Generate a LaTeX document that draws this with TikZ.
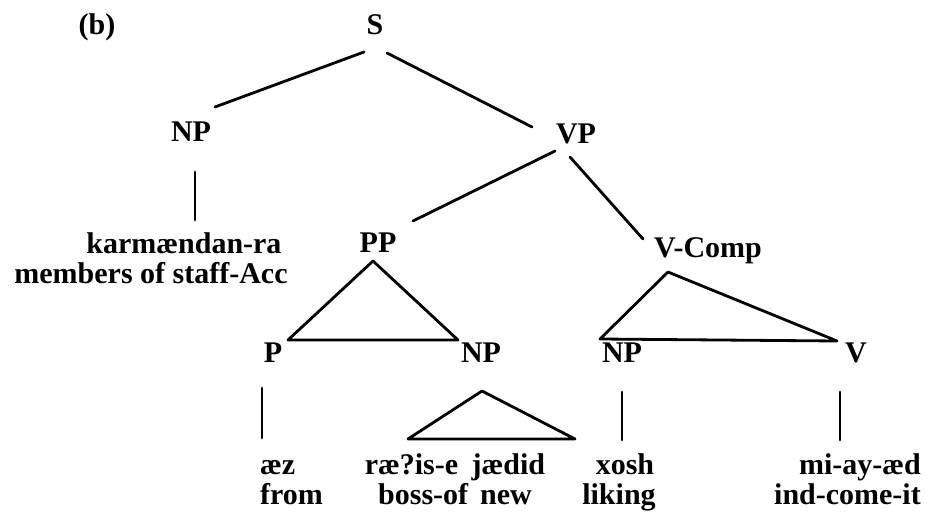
\documentclass[tikz,border=0pt]{standalone}
\usepackage{fontspec}
\setmainfont{Liberation Serif}
\usetikzlibrary{calc}
\newcommand{\twolines}[3]{\begin{tabular}[t]{@{}#1@{}}#2\\#3\end{tabular}}
\begin{document}
\begin{tikzpicture}[x=1pt,y=-1pt,
  lab/.style={inner sep=0pt,anchor=base,font=\fontsize{30}{32}\selectfont\bfseries},
  leaf/.style={inner sep=0pt,anchor=base,font=\fontsize{30}{28}\selectfont\bfseries},
  edge/.style={line width=2.8pt,line cap=round,line join=round}]
\useasboundingbox (0,0) rectangle (927,521);
% labels
\node[lab] (b) at (97,35) {(b)};
\node[lab] (S) at (375,35) {S};
\node[lab] (NPa) at (191,142) {NP};
\node[lab] (VP) at (576,144) {VP};
\node[lab] (PP) at (378,253) {PP};
\node[lab] (VC) at (708,258) {V-Comp};
\node[lab] (P) at (273,363) {P};
\node[lab] (NPb) at (481,363) {NP};
\node[lab] (NPc) at (622,363) {NP};
\node[lab] (V) at (856,363) {V};
% leaves
\node[leaf] (karm) at (184,254) {karmændan-ra};
\node[leaf] (memb) at (151,284) {members of staff-Acc};
\node[leaf,anchor=base west] (aez) at (260,475) {\twolines{l}{æz}{from}};
\node[leaf] (rais) at (455,475) {\twolines{c}{ræ?is-e\hspace{0.45em}jædid}{boss-of\hspace{0.4em}new}};
\node[leaf] (xosh) at (619,475) {\twolines{c}{\hspace{12pt}xosh}{liking}};
\node[leaf,anchor=base east] (mi) at (921,475) {\twolines{r}{mi-ay-æd}{ind-come-it}};
% edges
\draw[edge] ($(S.base)+(-11,17)$) -- ($(NPa.base)+(24,-35)$);
\draw[edge] ($(S.base)+(12,18)$) -- ($(VP.base)+(-44,-17)$);
\draw[edge] ($(NPa.base)+(4,30)$) -- ($(karm.base)+(11,-34)$);
\draw[edge] ($(VP.base)+(-21,7)$) -- ($(PP.base)+(35,-32)$);
\draw[edge] ($(VP.base)+(-6,13)$) -- ($(VC.base)+(-65,-19)$);
\draw[edge] ($(PP.base)+(-5,8)$) -- ($(P.base)+(15,-23)$) -- ($(NPb.base)+(-23,-23)$) -- cycle;
\draw[edge] ($(P.base)+(-11,25)$) -- ($(aez.base west)+(2,-37)$);
\draw[edge] ($(NPb.base)+(1,28)$) -- ($(rais.base)+(-47,-36)$) -- ($(rais.base)+(120,-36)$) -- cycle;
\draw[edge] ($(VC.base)+(-40,14)$) -- ($(NPc.base)+(-22,-24)$) -- ($(V.base)+(-19,-22)$) -- cycle;
\draw[edge] ($(NPc.base)+(0,29)$) -- ($(xosh.base)+(3,-35)$);
\draw[edge] ($(V.base)+(-16,29)$) -- ($(mi.base east)+(-81,-35)$);
\end{tikzpicture}
\end{document}
